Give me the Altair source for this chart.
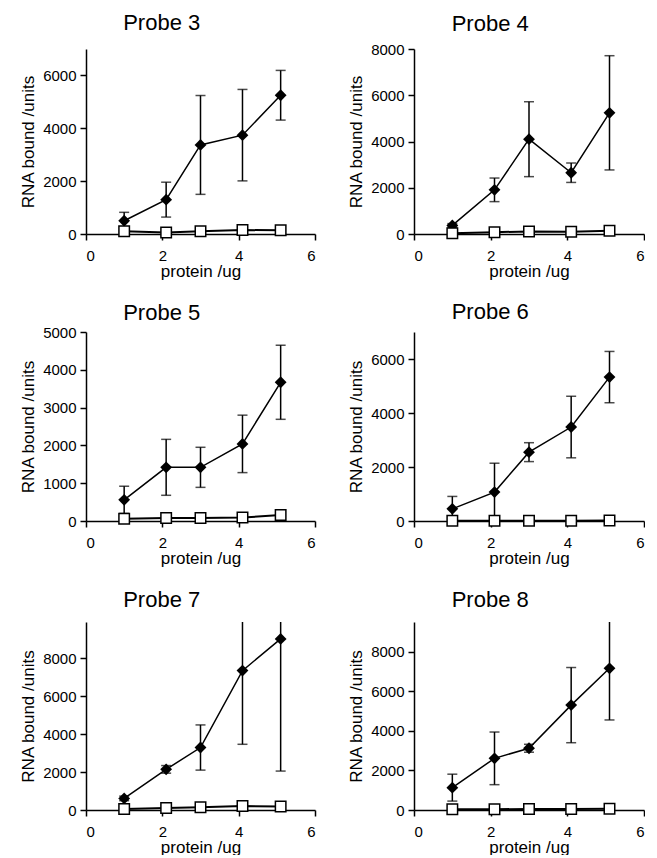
import altair as alt
import pandas as pd

probes = ["Probe 3", "Probe 4", "Probe 5", "Probe 6", "Probe 7", "Probe 8"]
protein_ug = [1.0, 2.1, 3.0, 4.1, 5.1]

bound_p3 = [500, 1300, 3370, 3740, 5250]
err_p3 = [320, 660, 1870, 1730, 940]
ctrl_p3 = [100, 60, 100, 150, 140]

bound_p4 = [370, 1910, 4100, 2650, 5240]
err_p4 = [80, 510, 1620, 420, 2470]
ctrl_p4 = [30, 80, 110, 100, 140]

bound_p5 = [560, 1420, 1420, 2040, 3670]
err_p5 = [360, 740, 530, 760, 980]
ctrl_p5 = [60, 80, 80, 90, 160]

bound_p6 = [450, 1070, 2550, 3480, 5330]
err_p6 = [460, 1070, 350, 1140, 950]
ctrl_p6 = [10, 10, 10, 10, 20]

bound_p7 = [610, 2140, 3290, 7340, 9010]
err_p7 = [120, 200, 1190, 3880, 6960]
ctrl_p7 = [50, 110, 140, 210, 190]

bound_p8 = [1130, 2610, 3120, 5300, 7160]
err_p8 = [680, 1330, 200, 1900, 2610]
ctrl_p8 = [40, 40, 50, 50, 60]

y_max = [7000, 8000, 5000, 7000, 9900, 9500]
y_ticks = [
    [0, 2000, 4000, 6000],
    [0, 2000, 4000, 6000, 8000],
    [0, 1000, 2000, 3000, 4000, 5000],
    [0, 2000, 4000, 6000],
    [0, 2000, 4000, 6000, 8000],
    [0, 2000, 4000, 6000, 8000],
]
x_ticks = [0, 2, 4, 6]

bound = [bound_p3, bound_p4, bound_p5, bound_p6, bound_p7, bound_p8]
errs = [err_p3, err_p4, err_p5, err_p6, err_p7, err_p8]
ctrl = [ctrl_p3, ctrl_p4, ctrl_p5, ctrl_p6, ctrl_p7, ctrl_p8]

FONT = "Liberation Sans"
panel_h = [185, 185, 189, 189, 188, 188]
panel_w = [229, 230, 229, 230, 229, 230]
title_off = [14, 6.5, 0.5, 8, 10.5, 10.5]


def panel(i):
    df = pd.DataFrame({
        "x": protein_ug,
        "mean": bound[i],
        "lo": [m - e for m, e in zip(bound[i], errs[i])],
        "hi": [m + e for m, e in zip(bound[i], errs[i])],
        "ctrl": ctrl[i],
    })
    xs = alt.X("x:Q", scale=alt.Scale(domain=[0, 6], nice=False),
               axis=alt.Axis(values=x_ticks, title="protein /ug", format="d"))
    ys = alt.Scale(domain=[0, y_max[i]], nice=False)
    yax = alt.Axis(values=y_ticks[i], title="RNA bound /units", format="d")
    base = alt.Chart(df)
    eb = base.mark_errorbar(ticks=True, thickness=1.5, size=10, color="black", clip=True).encode(
        x=xs, y=alt.Y("lo:Q", scale=ys, axis=yax), y2="hi:Q")
    ln = base.mark_line(color="black", strokeWidth=1.5).encode(
        x=xs, y=alt.Y("mean:Q", scale=ys, axis=yax))
    pt = base.mark_point(shape="diamond", filled=True, size=140, color="black", opacity=1).encode(
        x=xs, y=alt.Y("mean:Q", scale=ys, axis=yax))
    lc = base.mark_line(color="black", strokeWidth=2).encode(
        x=xs, y=alt.Y("ctrl:Q", scale=ys, axis=yax))
    pc = base.mark_square(size=110, fill="white", stroke="black", strokeWidth=1.5, opacity=1).encode(
        x=xs, y=alt.Y("ctrl:Q", scale=ys, axis=yax))
    return alt.layer(eb, ln, pt, lc, pc).properties(
        width=panel_w[i], height=panel_h[i],
        title=alt.TitleParams(text=probes[i], fontSize=22, font=FONT, fontWeight="normal",
                              anchor="middle", frame="bounds", dx=-6,
                              offset=title_off[i], color="black"),
    )


chart = alt.concat(*[panel(i) for i in range(6)], columns=2,
                   spacing={"row": 22, "column": 31}, align="each").properties(
    padding={"left": 11, "top": 4, "right": 0, "bottom": 0}
).configure_view(stroke=None).configure_axis(
    grid=False, domainColor="black", domainWidth=1.5, tickColor="black", tickWidth=1.5,
    tickSize=6, labelColor="black", titleColor="black", labelFont=FONT, titleFont=FONT,
    labelFontSize=15, titleFontSize=17, titleFontWeight="normal",
).configure_axisX(labelPadding=8, titlePadding=0).configure_axisY(labelPadding=4, titlePadding=5)

chart.save("out.html", embed_options={"renderer": "svg", "actions": False})
